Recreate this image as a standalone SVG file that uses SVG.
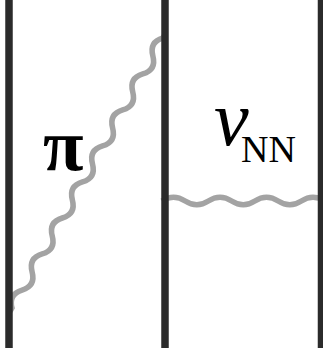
<svg xmlns="http://www.w3.org/2000/svg" width="323" height="356" viewBox="0 0 323 356">
<style>
.wave{fill:none;stroke:#a3a3a3;stroke-width:5.5;stroke-linecap:butt}
.wall{fill:none;stroke:#2b2b2b;stroke-width:7.5}
.lbl{font-family:"Liberation Serif","Times New Roman",serif;fill:#000}
</style>
<rect width="323" height="356" fill="#fff"/>
<g id="connectors">
<path id="pion" class="wave" transform="translate(12,308) rotate(-60.8)" d="M-4,0 L0,0 Q10.3,-10 20.6,0 T41.25,0 T61.9,0 T82.5,0 T103.1,0 T123.75,0 T144.4,0 T165,0 T185.6,0 T206.25,0 T226.9,0 T247.5,0 T268.1,0 T288.75,0 T309.4,0 L313,0"/>
<path id="vnn" class="wave" d="M161.9,201 Q173.5,193.5 185.15,201 T208.4,201 T231.65,201 T254.9,201 T278.15,201 T301.4,201 T324.65,201"/>
</g>
<g id="wall-left"><line class="wall" x1="9" y1="0" x2="9" y2="348"/></g>
<g id="wall-middle"><line class="wall" x1="165" y1="0" x2="165" y2="348"/></g>
<g id="wall-right"><line class="wall" x1="321.5" y1="0" x2="321.5" y2="348"/></g>
<g id="label-pi"><text class="lbl" x="43" y="170" font-size="74" font-weight="bold">π</text></g>
<g id="label-vnn"><text class="lbl" x="214" y="145" font-size="78" font-style="italic">v</text><text class="lbl" x="241" y="162" font-size="38">NN</text></g>
</svg>
